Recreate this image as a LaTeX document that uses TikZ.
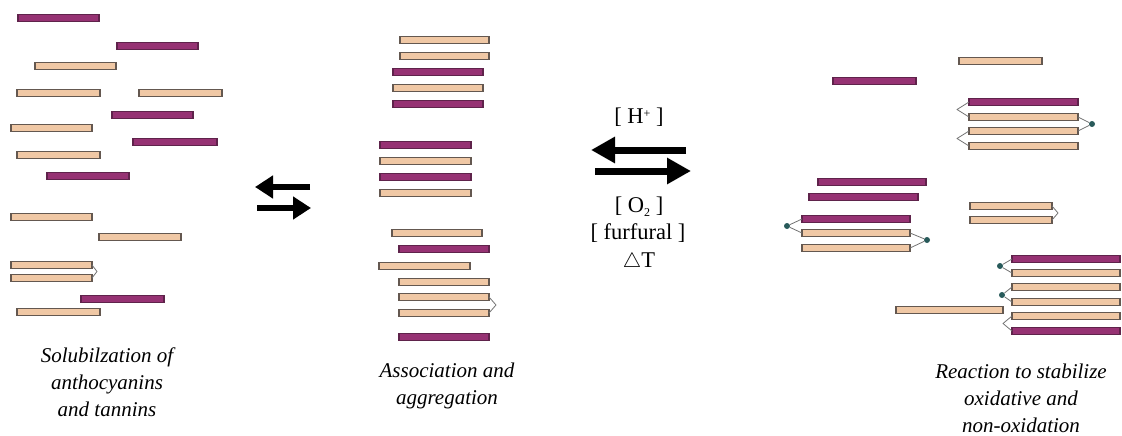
\documentclass[tikz,border=0pt]{standalone}
\usepackage{fontspec}
\setmainfont{Liberation Serif}
\usepackage{xcolor}
\usepackage{tikz}
\usetikzlibrary{arrows.meta, positioning}

\definecolor{plum}{RGB}{150,50,115}
\definecolor{plumline}{RGB}{95,35,75}
\definecolor{tan}{RGB}{240,200,165}
\definecolor{tanline}{RGB}{100,88,80}
\definecolor{dotteal}{RGB}{40,90,90}

\tikzset{
    bar/.style = {rectangle, anchor=west, minimum height=7pt, inner sep=0pt, outer sep=0pt, line width=1.2pt},
    pbar/.style = {bar, fill=plum, draw=plumline},
    tbar/.style = {bar, fill=tan, draw=tanline},
    link/.style = {draw=black!55, line width=0.8pt, line join=round},
    blob/.style = {circle, fill=dotteal, minimum size=6pt, inner sep=0pt},
    bigarrow/.style = {line width=6pt, -{Triangle[length=18pt,width=22pt]}},
    hugearrow/.style = {line width=7pt, -{Triangle[length=24pt,width=25pt]}},
    cond/.style = {inner sep=0pt, font=\fontsize{22.5}{27}\selectfont},
    caption/.style = {align=center, font=\fontsize{21}{27}\selectfont\itshape}
}

\begin{document}
\begin{tikzpicture}[x=1pt, y=-1pt]
    \useasboundingbox (0,0) rectangle (1122,436);

    % solubilization
    \node (l1) [pbar, minimum width=81pt] at (18,18) {};
    \node (l2) [pbar, minimum width=81pt] at (117,46) {};
    \node (l3) [tbar, minimum width=81pt] at (35,66) {};
    \node (l4) [tbar, minimum width=83pt] at (17,93) {};
    \node (l5) [tbar, minimum width=83pt] at (139,93) {};
    \node (l6) [pbar, minimum width=81pt] at (112,115) {};
    \node (l7) [tbar, minimum width=81pt] at (11,128) {};
    \node (l8) [pbar, minimum width=84pt] at (133,142) {};
    \node (l9) [tbar, minimum width=83pt] at (17,155) {};
    \node (l10) [pbar, minimum width=82pt] at (47,176) {};
    \node (l11) [tbar, minimum width=81pt] at (11,217) {};
    \node (l12) [tbar, minimum width=82pt] at (99,237) {};
    \node (l13) [tbar, minimum width=81pt] at (11,265) {};
    \node (l14) [tbar, minimum width=81pt] at (11,278) {};
    \node (l15) [pbar, minimum width=83pt] at (81,299) {};
    \node (l16) [tbar, minimum width=83pt] at (17,312) {};
    \coordinate (lt) at (97,271.5);
    \draw [link] (l13.east) -- (lt) -- (l14.east);

    % association
    \node (m1) [tbar, minimum width=89pt] at (400,40) {};
    \node (m2) [tbar, minimum width=89pt] at (400,56) {};
    \node (m3) [pbar, minimum width=90pt] at (393,72) {};
    \node (m4) [tbar, minimum width=90pt] at (393,88) {};
    \node (m5) [pbar, minimum width=90pt] at (393,104) {};
    \node (m6) [pbar, minimum width=91pt] at (380,145) {};
    \node (m7) [tbar, minimum width=91pt] at (380,161) {};
    \node (m8) [pbar, minimum width=91pt] at (380,177) {};
    \node (m9) [tbar, minimum width=91pt] at (380,193) {};
    \node (m10) [tbar, minimum width=90pt] at (392,233) {};
    \node (m11) [pbar, minimum width=90pt] at (399,249) {};
    \node (m12) [tbar, minimum width=91pt] at (379,266) {};
    \node (m13) [tbar, minimum width=90pt] at (399,282) {};
    \node (m14) [tbar, minimum width=90pt] at (399,297) {};
    \node (m15) [tbar, minimum width=90pt] at (399,313) {};
    \node (m16) [pbar, minimum width=90pt] at (399,337) {};
    \coordinate (mt) at (496,305);
    \draw [link] (m14.east) -- (mt) -- (m15.east);

    % reaction
    \node (r1) [tbar, minimum width=83pt] at (959,61) {};
    \node (r2) [pbar, minimum width=83pt] at (833,81) {};
    \node (r3) [pbar, minimum width=109pt] at (969,102) {};
    \node (r4) [tbar, minimum width=109pt] at (969,117) {};
    \node (r5) [tbar, minimum width=109pt] at (969,131) {};
    \node (r6) [tbar, minimum width=109pt] at (969,146) {};
    \coordinate (rt1) at (957,109.5);
    \coordinate (rt2) at (957,138.5);
    \node (rd1) [blob] at (1092,124) {};
    \draw [link] (r3.west) -- (rt1) -- (r4.west);
    \draw [link] (r4.east) -- (rd1) -- (r5.east);
    \draw [link] (r5.west) -- (rt2) -- (r6.west);

    \node (r7) [pbar, minimum width=108pt] at (818,182) {};
    \node (r8) [pbar, minimum width=109pt] at (809,197) {};
    \node (r9) [pbar, minimum width=108pt] at (802,219) {};
    \node (r10) [tbar, minimum width=108pt] at (802,233) {};
    \node (r11) [tbar, minimum width=108pt] at (802,248) {};
    \node (rd2) [blob] at (787,226) {};
    \node (rd3) [blob] at (927,240) {};
    \draw [link] (r9.west) -- (rd2) -- (r10.west);
    \draw [link] (r10.east) -- (rd3) -- (r11.east);

    \node (r12) [tbar, minimum width=82pt] at (970,206) {};
    \node (r13) [tbar, minimum width=82pt] at (970,220) {};
    \coordinate (rt3) at (1058,213);
    \draw [link] (r12.east) -- (rt3) -- (r13.east);

    \node (r14) [pbar, minimum width=108pt] at (1012,259) {};
    \node (r15) [tbar, minimum width=108pt] at (1012,273) {};
    \node (r16) [tbar, minimum width=108pt] at (1012,287) {};
    \node (r17) [tbar, minimum width=108pt] at (1012,302) {};
    \node (r18) [tbar, minimum width=108pt] at (1012,316) {};
    \node (r19) [pbar, minimum width=108pt] at (1012,331) {};
    \node (r20) [tbar, minimum width=107pt] at (896,310) {};
    \node (rd4) [blob] at (1000,266) {};
    \node (rd5) [blob] at (1002,295) {};
    \coordinate (rt4) at (1003,323.5);
    \draw [link] (r14.west) -- (rd4) -- (r15.west);
    \draw [link] (r16.west) -- (rd5) -- (r17.west);
    \draw [link] (r18.west) -- (rt4) -- (r19.west);

    % equilibrium arrows
    \coordinate (e1a) at (310,187);
    \coordinate (e1b) at (255,187);
    \coordinate (e2a) at (257,208);
    \coordinate (e2b) at (311,208);
    \draw [bigarrow] (e1a) -- (e1b);
    \draw [bigarrow] (e2a) -- (e2b);

    \coordinate (f1a) at (686,150);
    \coordinate (f1b) at (591,150);
    \coordinate (f2a) at (595,171);
    \coordinate (f2b) at (691,171);
    \draw [hugearrow] (f1a) -- (f1b);
    \draw [hugearrow] (f2a) -- (f2b);

    \node (acid) [cond] at (639,117) {[ H{\fontsize{12}{12}\selectfont\raisebox{6pt}{+}} ]};
    \node (oxy) [cond] at (639,207) {[ O{\fontsize{12}{12}\selectfont\raisebox{-4pt}{2}} ]};
    \node (furf) [cond] at (638,233) {[ furfural ]};
    \node (heat) [cond] at (639,262) {$\triangle$T};

    % captions
    \node (c1) [caption] at (107,382) {Solubilzation of\\anthocyanins\\and tannins};
    \node (c2) [caption] at (447,386) {Association and\\aggregation};
    \node (c3) [caption] at (1021,398) {Reaction to stabilize\\oxidative and\\non-oxidation};
\end{tikzpicture}
\end{document}
